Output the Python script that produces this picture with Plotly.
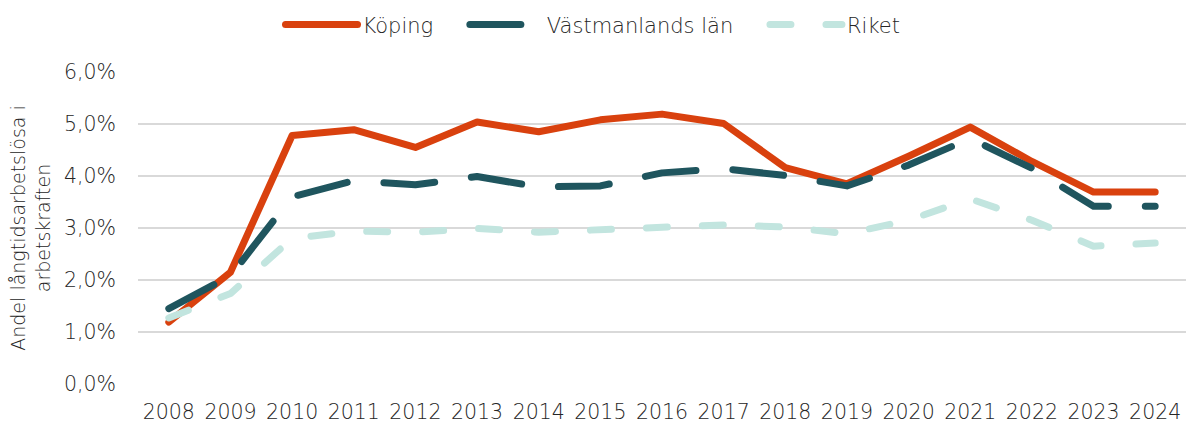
import plotly.graph_objects as go

years = [str(y) for y in range(2008, 2025)]
koping = [1.19, 2.15, 4.78, 4.89, 4.55, 5.04, 4.85, 5.08, 5.19, 5.01, 4.16, 3.85, 4.38, 4.94, 4.28, 3.69, 3.69]
vastmanland = [1.45, 2.08, 3.60, 3.91, 3.83, 3.99, 3.79, 3.81, 4.06, 4.14, 4.01, 3.81, 4.21, 4.72, 4.15, 3.42, 3.42]
riket = [1.27, 1.74, 2.80, 2.94, 2.92, 2.99, 2.92, 2.97, 3.03, 3.06, 3.02, 2.89, 3.15, 3.56, 3.15, 2.65, 2.71]
series_names = ["Köping", "Västmanlands län", "Riket"]
y_ticks = [0, 0.01, 0.02, 0.03, 0.04, 0.05, 0.06]

FONT = "DejaVu Sans"
W = 200
TXT = "#262626"
PAD = "\u00a0" * 4

fig = go.Figure()
fig.add_trace(go.Scatter(x=years, y=[v / 100 for v in koping], name=series_names[0] + PAD, mode="lines",
                         line=dict(color="#D9410E", width=7)))
fig.add_trace(go.Scatter(x=years, y=[v / 100 for v in vastmanland], name=series_names[1] + PAD, mode="lines",
                         line=dict(color="#1F555E", width=7, dash="51px,37px")))
fig.add_trace(go.Scatter(x=years, y=[v / 100 for v in riket], name=series_names[2], mode="lines",
                         line=dict(color="#C2E5DF", width=7, dash="21px,35px")))

fig.update_layout(
    width=1186, height=423,
    margin=dict(l=138, r=0, t=72, b=39, autoexpand=False),
    paper_bgcolor="white", plot_bgcolor="white",
    separators=", ",
    font=dict(family=FONT, color=TXT, size=20.5, weight=W),
    showlegend=True,
    legend=dict(orientation="h", x=(593 - 138) / 1048, xanchor="center", y=1.151, yanchor="middle",
                font=dict(size=21, color=TXT, family=FONT, weight=W),
                itemwidth=72, traceorder="normal"),
    xaxis=dict(type="category", range=[-0.5, 16.5], showgrid=False, showline=False, ticks="",
               automargin=False, ticklabelstandoff=13,
               tickfont=dict(size=20.5, color=TXT, family=FONT, weight=W)),
    yaxis=dict(range=[0, 0.06], tickvals=y_ticks, tickformat=".1%", showgrid=True,
               gridcolor="#D9D9D9", gridwidth=1.5, zeroline=False, showline=False, ticks="",
               ticklabelstandoff=21, automargin=False,
               tickfont=dict(size=20.5, color=TXT, family=FONT, weight=W),
               title=dict(text="Andel långtidsarbetslösa i<br>arbetskraften", standoff=8,
                          font=dict(size=19, color=TXT, family=FONT, weight=W))),
)

post = """
document.documentElement.style.margin='0';
document.body.style.margin='0';
document.body.style.padding='0';
function fixCaps(){
  document.querySelectorAll('.scatterlayer path.js-line, .legendlines path').forEach(function(p){
    p.style.strokeLinecap='round'; p.style.strokeLinejoin='round';
  });
}
fixCaps();
var gd = document.getElementsByClassName('plotly-graph-div')[0];
if (gd && gd.on) { gd.on('plotly_afterplot', fixCaps); }
"""

fig.write_html("out.html", post_script=post, config={"displayModeBar": False})
